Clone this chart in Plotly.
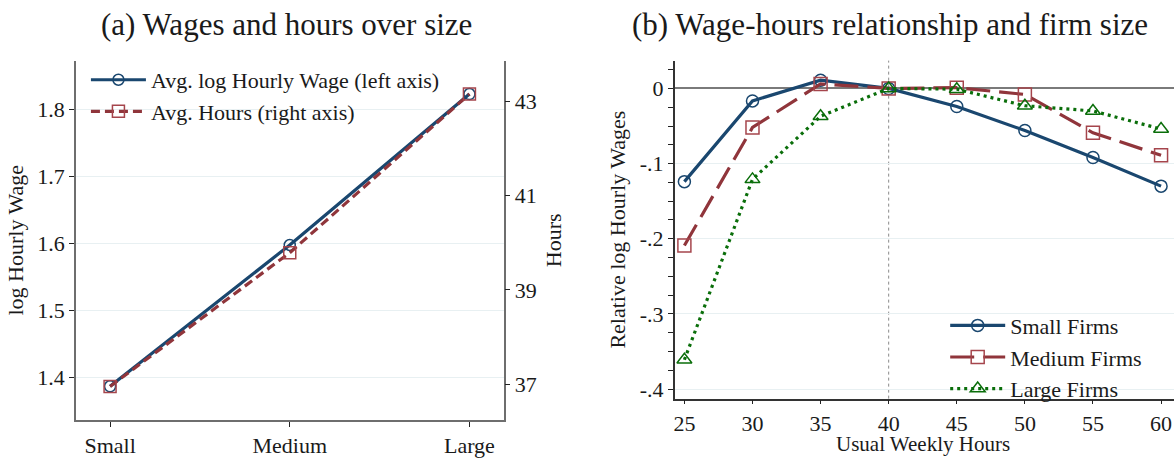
import plotly.graph_objects as go

# Panel (a): averages by firm size
size_labels = ["Small", "Medium", "Large"]
avg_log_wage = [1.387, 1.5975, 1.8224]
avg_hours = [36.95, 39.79, 43.16]

# Panel (b): relative log hourly wages by usual weekly hours
weekly_hours = [25, 30, 35, 40, 45, 50, 55, 60]
small_firms = [-0.124, -0.0166, 0.011, 0.0, -0.024, -0.056, -0.092, -0.130]
medium_firms = [-0.209, -0.052, 0.006, 0.0, 0.001, -0.008, -0.059, -0.089]
large_firms = [-0.361, -0.121, -0.037, 0.0, -0.001, -0.023, -0.030, -0.054]

NAVY = "#1a476f"
MAROON = "#90353b"
GREEN = "#0a6e0a"
FONT = "Liberation Serif"
AXIS_GREY = "#6e6e6e"
GRID = "#e8f0f2"
TXT = "#1a1a1a"

W, H = 1174, 458


def px_x(p):
    return p / W


def px_y(p):
    return 1 - p / H


fig = go.Figure()

fig.add_trace(go.Scatter(
    x=size_labels, y=avg_log_wage, name="Avg. log Hourly Wage (left axis)",
    mode="lines+markers", xaxis="x", yaxis="y",
    line=dict(color=NAVY, width=3.2),
    marker=dict(symbol="circle-open", size=11, color=NAVY, line=dict(width=1.5)),
    legend="legend",
))
fig.add_trace(go.Scatter(
    x=size_labels, y=avg_hours, name="Avg. Hours (right axis)",
    mode="lines+markers", xaxis="x", yaxis="y2",
    line=dict(color=MAROON, width=3.2, dash="9px,5px"),
    marker=dict(symbol="square-open", size=12, color="#a5454c", line=dict(width=1.5)),
    legend="legend",
))

fig.add_trace(go.Scatter(
    x=weekly_hours, y=small_firms, name="Small Firms",
    mode="lines+markers", xaxis="x2", yaxis="y3",
    line=dict(color=NAVY, width=3.2),
    marker=dict(symbol="circle-open", size=12, color=NAVY, line=dict(width=1.5)),
    legend="legend2",
))
fig.add_trace(go.Scatter(
    x=weekly_hours, y=medium_firms, name="Medium Firms",
    mode="lines+markers", xaxis="x2", yaxis="y3",
    line=dict(color=MAROON, width=3.2, dash="24px,9px"),
    marker=dict(symbol="square-open", size=13, color="#a5454c", line=dict(width=1.5)),
    legend="legend2",
))
fig.add_trace(go.Scatter(
    x=weekly_hours, y=large_firms, name="Large Firms",
    mode="lines+markers", xaxis="x2", yaxis="y3",
    line=dict(color=GREEN, width=3.2, dash="3px,4px"),
    marker=dict(symbol="triangle-up-open", size=13, color=GREEN, line=dict(width=1.5)),
    legend="legend2",
))

tickfont = dict(family=FONT, size=22, color=TXT)
titlefont = dict(family=FONT, size=22, color=TXT)


def axis_style(linecolor=AXIS_GREY, **extra):
    style = dict(
        showline=True, linecolor=linecolor, linewidth=1.6,
        ticks="outside", ticklen=5, tickwidth=1.2, tickcolor="#222",
        tickfont=tickfont, zeroline=False,
    )
    style.update(extra)
    return style


fig.update_layout(
    width=W, height=H,
    margin=dict(l=0, r=0, t=0, b=0),
    paper_bgcolor="white", plot_bgcolor="white",
    font=dict(family=FONT, color=TXT),
    xaxis=axis_style(
        domain=[px_x(75), px_x(503)],
        anchor="y", type="category",
        range=[-0.19, 2.19], showgrid=False,
    ),
    yaxis=axis_style(
        domain=[px_y(427.3), px_y(61.7)],
        anchor="x", range=[1.337, 1.8722],
        tickvals=[1.4, 1.5, 1.6, 1.7, 1.8], ticktext=["1.4", "1.5", "1.6", "1.7", "1.8"],
        showgrid=True, gridcolor=GRID, gridwidth=1.2,
        title=dict(text="log Hourly Wage", font=titlefont, standoff=8),
    ),
    yaxis2=axis_style(
        overlaying="y", side="right", anchor="x",
        range=[36.24, 43.87],
        tickvals=[37, 39, 41, 43],
        showgrid=False,
        title=dict(text="Hours", font=titlefont, standoff=10),
    ),
    xaxis2=axis_style(
        linecolor="#333",
        domain=[px_x(674.3), 1.0],
        anchor="y3", range=[24.29, 60.95],
        tickvals=weekly_hours, showgrid=False,
        ticklen=4,
    ),
    yaxis3=axis_style(
        linecolor="#333",
        domain=[px_y(405.7), px_y(61.7)],
        anchor="x2", range=[-0.4127, 0.037],
        tickvals=[0, -0.1, -0.2, -0.3, -0.4], ticktext=["0", "-.1", "-.2", "-.3", "-.4"],
        minor=dict(dtick=0.025, tick0=0, ticks="outside", ticklen=5, tickcolor="#222", showgrid=False),
        showgrid=True, gridcolor=GRID, gridwidth=1.2,
        zeroline=True, zerolinecolor="#7a7a7a", zerolinewidth=2,
        title=dict(text="Relative log Hourly Wages", font=titlefont, standoff=8),
    ),
    legend=dict(
        x=px_x(85), y=px_y(60), xanchor="left", yanchor="top",
        bgcolor="rgba(255,255,255,0)", font=dict(family=FONT, size=22, color=TXT),
        itemwidth=55, tracegroupgap=0,
    ),
    legend2=dict(
        x=px_x(945), y=px_y(310), xanchor="left", yanchor="top",
        bgcolor="rgba(255,255,255,0)", font=dict(family=FONT, size=22, color=TXT),
        itemwidth=55, tracegroupgap=0,
    ),
    showlegend=True,
)

# Reference line at 40 hours
fig.add_shape(
    type="line", xref="x2", yref="y3 domain",
    x0=40, x1=40, y0=0, y1=1,
    line=dict(color="#8a8a8a", width=1, dash="dot"), layer="below",
)

# X-axis title of panel (b), set just under the tick labels
fig.add_annotation(
    text="Usual Weekly Hours", xref="paper", yref="paper",
    x=px_x(923), y=px_y(452), xanchor="center", yanchor="middle",
    showarrow=False, font=dict(family=FONT, size=21, color=TXT), borderpad=0,
)

# Panel titles
fig.add_annotation(
    text="(a) Wages and hours over size", xref="paper", yref="paper",
    x=px_x(286), y=px_y(25), xanchor="center", yanchor="middle",
    showarrow=False, font=dict(family=FONT, size=31, color=TXT),
)
fig.add_annotation(
    text="(b) Wage-hours relationship and firm size", xref="paper", yref="paper",
    x=px_x(890), y=px_y(25), xanchor="center", yanchor="middle",
    showarrow=False, font=dict(family=FONT, size=31, color=TXT),
)

fig.write_html("out.html")
